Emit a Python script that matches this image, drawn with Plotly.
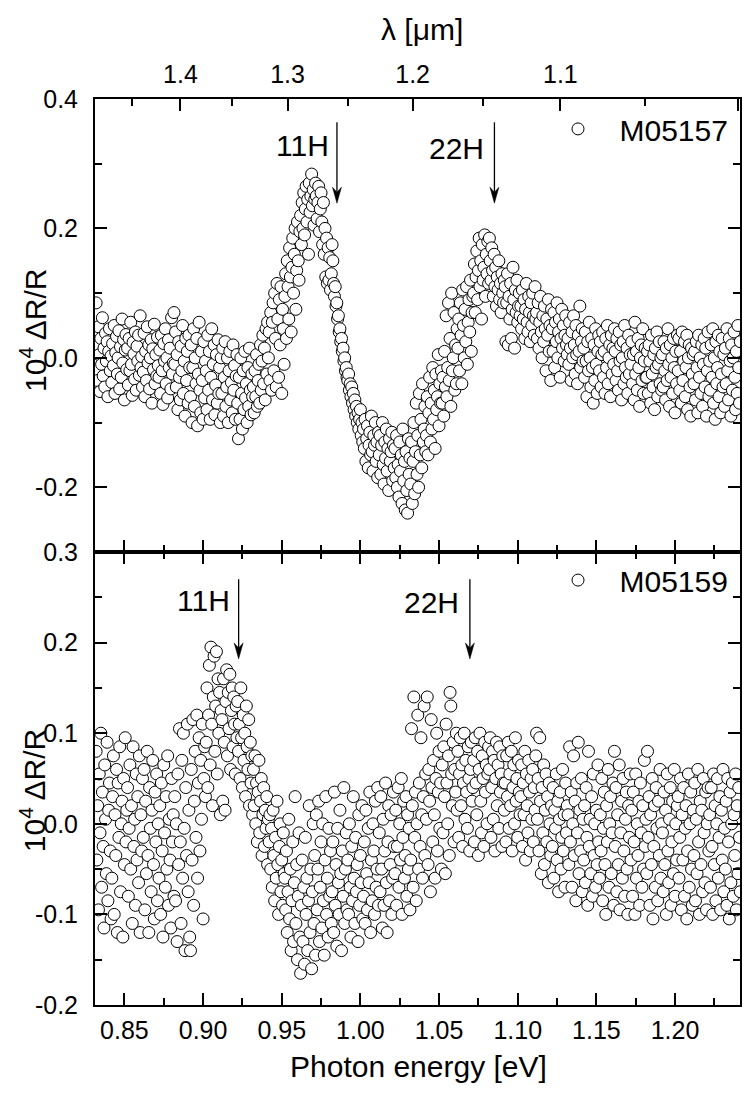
import numpy as np
import plotly.graph_objects as go

# ---------------- data (10^4 dR/R, in units of 0.001) ----------------
energy_start_eV = 0.832
energy_step_eV = 0.0005

top_label = "M05157"
bottom_label = "M05159"

top_dRR_milli = [
    85, 20, -35, 48, 5, -52, 30, -10, 62, -28, 15, -45, 38, -5, 25, -60, 10, 45, -20, 3,
    -38, 22, -12, 50, -55, 8, 33, -25, 0, 42, -48, 17, -30, 60, -8, 28, -65, 12, 36, -18,
    15, -42, 30, -20, 55, -10, -58, 24, 6, -33, 40, -50, 18, -5, 35, -27, 65, -15, 2, -45,
    -22, 38, -60, 10, -35, 48, -8, 20, -48, 0, 28, -70, 14, -18, 52, -40, 5, -28, 32, -12,
    -30, 12, -55, 35, -20, -72, 22, -5, 45, -40, 0, -62, 28, -15, 15, -48, 62, -25, -8, 70,
    -10, 40, -45, 5, -80, 25, -30, -65, 18, -20, 50, -55, -5, -90, 30, -35, 10, -70, 35, -15,
    -60, 20, -100, -15, 45, -75, 0, -40, 30, -105, -25, 55, -50, -85, 10, -35, -95, 25, -62, -5,
    -20, -80, 35, -50, 10, -95, -30, 45, -65, -10, 20, -88, -42, 5, -70, 28, -55, -15, -100, 0,
    -55, 15, -90, -30, 25, -75, -45, 0, -100, -20, 10, -65, -38, -85, 20, -50, -12, -95, -28, 5,
    -70, -125, -30, -95, 0, -55, -110, -20, -80, 10, -62, -40, -100, -15, -75, 15, -50, -88, -25, -60,
    -45, -85, -20, -60, 5, -75, -35, -10, -70, 20, -50, -5, 35, -40, 15, -65, 45, -25, 55, 0,
    40, -35, 70, -50, 55, 85, -20, 100, 30, -45, 115, 60, -30, 90, 20, 110, -55, 75, 45, -10,
    95, 130, 30, 150, 110, 60, 170, 125, 40, 140, 185, 100, 160, 200, 75, 135, 210, 150, 120, 195,
    220, 175, 240, 200, 255, 190, 230, 265, 210, 245, 160, 270, 225, 250, 284, 235, 260, 205, 245, 270,
    250, 215, 240, 265, 195, 230, 255, 210, 175, 240, 160, 200, 125, 185, 115, 170, 120, 155, 105, 130,
    175, 150, 115, 95, 110, 80, 85, 60, 65, 40, 45, 25, 30, 10, 15, -5, 0, -20, -15, -30,
    -35, -25, -50, -40, -60, -45, -70, -55, -80, -65, -90, -75, -100, -85, -110, -95, -80, -120, -100, -130,
    -110, -140, -95, -160, -125, -105, -170, -135, -115, -150, -90, -145, -175, -120, -135, -100, -160, -130, -185, -115,
    -150, -120, -180, -135, -100, -165, -195, -130, -155, -110, -175, -140, -205, -125, -160, -145, -115, -190, -135, -170,
    -140, -185, -120, -200, -165, -215, -130, -175, -150, -225, -110, -190, -160, -235, -145, -205, -240, -125, -180, -155,
    -195, -130, -225, -160, -100, -210, -145, -70, -180, -120, -200, -55, -150, -95, -170, -40, -130, -110, -75, -145,
    -120, -60, -150, -85, -30, -130, -70, -110, -15, -95, -50, -140, -25, -80, -60, 5, -105, -40, -70, -20,
    -70, -30, -90, 10, -45, 65, -60, -15, 85, -35, 30, -75, 100, -20, 0, 70, -50, 20, -40, 45,
    15, 60, -20, 85, 35, -40, 105, 50, 0, 75, 25, 110, -10, 55, 90, 40, 120, 10, 70, 95,
    100, 145, 70, 125, 165, 90, 135, 185, 110, 150, 60, 175, 120, 140, 190, 95, 160, 130, 180, 115,
    185, 150, 120, 170, 135, 95, 160, 110, 140, 80, 125, 105, 150, 90, 115, 70, 130, 100, 85, 120,
    110, 25, 85, 130, 20, 95, 60, 115, 30, 75, 140, 90, 15, 105, 70, 120, 55, 80, 100, 65,
    80, 45, 105, 60, 90, 30, 75, 115, 55, 40, 95, 70, 25, 85, 50, 100, 65, 35, 110, 60,
    70, 30, 85, 15, 55, 95, 40, 0, 65, 25, 80, 45, -20, 60, 35, 90, 10, 50, -35, 75,
    45, 10, 70, -15, 55, 25, 85, 0, 40, 60, -30, 30, 75, 15, 50, -5, 35, 65, 20, 5,
    30, -10, 55, 15, -35, 40, 0, 65, 20, -25, 50, 5, -40, 35, 10, 80, -15, 25, 45, -5,
    15, -30, 40, -5, -60, 25, -20, 55, 0, -45, 30, -15, -70, 20, -35, 45, -10, -55, 10, 35,
    -20, 25, -45, 5, 40, -30, 10, -55, 30, -15, 50, -40, 0, 20, -60, 35, -25, 15, -10, 45,
    10, -35, 30, -20, -50, 40, -5, 20, -65, 0, 25, -40, 50, -15, -30, 15, -55, 35, -25, 5,
    -10, 25, -40, 5, -65, 55, -25, 10, -50, 30, -15, -75, 0, 20, -35, 45, -55, -5, 15, -30,
    -30, 10, -55, 20, -5, -70, 35, -25, -45, 5, -80, 15, -15, 40, -60, -10, 25, -40, 0, -50,
    5, -45, 25, -20, -65, 15, -35, 45, -10, -75, 20, -30, 0, -55, 30, -15, -85, 10, -40, 35,
    -20, 30, -50, 10, -70, 40, -35, -5, 25, -60, -15, 35, -80, 0, 20, -45, -90, 15, -25, 5,
    -40, 10, -65, 25, -15, -85, 35, -30, 0, -55, 20, -75, -10, 30, -45, 15, -90, -20, 40, -60,
    -5, -50, 20, -30, 45, -70, 0, -95, 25, -40, -15, 35, -60, 10, -85, -25, 30, -45, 5, -75,
    15, -40, 45, -20, -65, 30, -5, -90, 20, -50, 0, 40, -30, -80, 10, -55, 50, -15, -70, 25,
]

bottom_dRR_milli = [
    80, -40, 20, -95, 55, -10, 100, -70, 35, -25, -115, 65, 5, -55, 90, -85, 15, 45, -30, -105,
    -60, 30, 75, -100, 10, -35, 60, -120, 45, -15, 85, -75, 0, 25, -125, 50, -45, 95, -20, 15,
    40, -80, -5, 65, -50, 20, -110, 85, -25, 5, -90, 55, -40, 30, -65, 75, -120, 10, -30, 50,
    -15, 60, -95, 25, -55, 80, -35, -120, 40, -5, -75, 15, 70, -45, -105, 35, -20, 55, -85, 0,
    -60, 20, -100, 45, -30, -125, 65, -10, -70, 30, -50, 75, -90, 5, -40, -115, 50, -20, 10, -80,
    30, -85, 0, -130, 55, -45, 105, -20, -110, 70, -60, 100, -5, -140, 40, -35, 110, -75, 15, -125,
    -140, 60, -40, 115, -90, 25, 80, -15, 120, -60, 45, 95, -30, 70, 5, 110, -105, 50, 85, 30,
    90, 150, 40, 120, 175, 65, 195, 110, 20, 140, 185, 80, 130, 190, 55, 160, 100, 145, 10, 125,
    115, 25, 160, 90, 15, 135, 170, 75, 145, 105, 165, 60, 125, 150, 85, 140, 110, 55, 130, 95,
    135, 80, 110, 50, 150, 95, 40, 120, 70, 100, 30, 130, 85, 60, 115, 20, 90, 45, 75, 10,
    60, 20, 75, 0, 45, -20, 35, 70, -10, 25, 50, -35, 10, 40, -25, 15, -5, 30, -45, 5,
    -20, 10, -50, -5, -70, 15, -35, -85, -15, -60, 25, -45, -100, -25, 0, -75, -40, -90, -10, -55,
    -60, -95, -30, -120, -75, 5, -105, -50, -140, -85, -20, -130, -65, 30, -110, -45, -150, -80, -10, -125,
    -165, -90, -40, -130, -70, -155, -15, -100, -60, -140, -85, 20, -120, -50, -160, -75, 0, -110, -35, -145,
    10, -95, -50, 25, -130, -70, -20, -115, 0, -85, -145, -40, 30, -100, -60, -125, -5, -80, -30, -110,
    -75, -20, -120, 35, -90, -45, -135, -5, -65, -100, 15, -55, -140, -30, -80, 40, -110, -50, -10, -95,
    -40, -100, 0, -70, -125, -25, -85, 30, -60, -110, -15, -75, -45, -130, 10, -90, -35, -65, 20, -105,
    -80, -20, -110, 15, -55, -95, -5, -65, 35, -120, -40, -85, 0, -30, -100, 25, -70, -50, 40, -90,
    -10, -75, 30, -50, -115, 5, -90, -30, 45, -65, -120, -20, 20, -85, -45, 10, -100, -60, 35, -25,
    -55, 15, -90, -25, 40, -70, 0, -40, 50, -100, -15, 25, -60, -35, 30, -80, 10, -50, -5, -95,
    -40, 105, 20, -70, 140, -15, 35, -85, 0, 120, -50, 45, -25, 95, 10, -60, 30, 130, -35, 55,
    5, 140, -45, 60, 25, -75, 115, 40, -20, 70, 10, -60, 50, 100, -30, 35, 80, -5, 45, -50,
    65, -10, 85, 30, -55, 110, 45, 0, 75, -35, 145, 130, 55, 20, 90, -20, 60, 35, 100, 15,
    80, -15, 55, 95, 20, 65, -25, 45, 100, 5, 70, 35, -5, 85, 50, -30, 60, 90, 25, 40,
    70, -20, 95, 45, 10, 80, -35, 60, 100, 25, -10, 75, 50, -25, 90, 35, 65, 0, 55, 85,
    60, 95, -15, 40, 80, 5, 70, -30, 50, 90, 20, 65, -5, 85, 35, 55, -25, 75, 45, 15,
    45, -20, 75, 30, 90, -5, 55, 20, 80, -30, 40, 65, 0, 95, 25, 50, -15, 70, 35, 10,
    30, 65, -25, 45, 10, 80, -40, 55, 20, -10, 70, 35, -30, 50, 5, 60, -20, 40, 15, 75,
    100, 5, 50, -30, 95, 25, -55, 40, -10, 65, -45, 15, 55, -20, 30, -65, 45, 0, -35, 20,
    -25, 40, -60, 15, -5, 55, -40, 25, -75, 5, 35, -50, -15, 60, -30, 10, -70, 45, -10, 20,
    10, -45, 85, -20, 35, -70, 0, 75, -35, 25, -85, 45, -10, 90, -55, 15, -30, 50, -75, 5,
    -40, 20, -65, 40, -15, -90, 80, -25, 5, -55, 30, -80, 55, -35, 0, -70, 15, -45, 65, -20,
    -60, 10, -30, 50, -85, -5, 35, -45, -100, 20, -20, 60, -70, 0, 30, -55, -10, 45, -90, 80,
    -25, 40, -75, 10, -45, 65, -95, -10, 25, -60, 50, -30, -80, 5, 35, -50, -100, 20, -15, 55,
    -40, 15, -80, 35, -20, -100, 55, -60, 0, -35, 25, -90, 45, -10, -70, 20, -50, 70, -25, 5,
    -55, 80, -15, 30, -90, 10, -45, 50, -105, -25, 20, -70, 40, -5, -85, 25, -35, 60, -60, 0,
    -10, -75, 35, -45, 15, -100, 55, -30, -65, 5, 40, -90, -20, 25, -55, 60, -80, 0, -40, 20,
    30, -60, -15, 50, -95, 10, -40, 40, -80, -5, 20, -105, -30, 55, -70, 0, 35, -50, -90, 15,
    -35, 45, -85, 5, -55, 60, -20, -100, 25, -45, 15, -75, 50, -10, -65, 35, -95, 0, 40, -30,
    10, -70, 40, -25, -100, 55, -45, 20, -85, 0, 50, -60, -15, 30, -95, 15, -40, 60, -75, -5,
    -50, 25, -90, 50, -20, -105, 35, -65, 0, 45, -80, 10, -35, 55, -95, 20, -55, 40, -15, -75,
]

# axis ticks / labels
energy_tickvals = [0.85, 0.90, 0.95, 1.00, 1.05, 1.10, 1.15, 1.20]
energy_ticktext = ["0.85", "0.90", "0.95", "1.00", "1.05", "1.10", "1.15", "1.20"]
energy_minor = [0.875, 0.925, 0.975, 1.025, 1.075, 1.125, 1.175, 1.225]
lambda_ticks_um = [1.4, 1.3, 1.2, 1.1, 1.0]
lambda_ticktext = ["1.4", "1.3", "1.2", "1.1", "1.0"]
lambda_minor_um = [1.45, 1.35, 1.25, 1.15, 1.05]
top_y_tickvals = [-0.2, 0.0, 0.2, 0.4]
top_y_ticktext = ["-0.2", "0.0", "0.2", "0.4"]
top_y_minor = [-0.1, 0.1, 0.3]
bottom_y_tickvals = [-0.2, -0.1, 0.0, 0.1, 0.2, 0.3]
bottom_y_ticktext = ["-0.2", "-0.1", "0.0", "0.1", "0.2", "0.3"]
bottom_y_minor = [-0.15, -0.05, 0.05, 0.15, 0.25]

# transition markers (label, energy in eV)
top_transitions = [("11H", 0.9851), ("22H", 1.0852)]
bottom_transitions = [("11H", 0.9226), ("22H", 1.0696)]

HC_EV_UM = 1.23984  # E[eV] = 1.23984 / lambda[um]

# ---------------- build ----------------
top_dRR = np.array(top_dRR_milli) / 1000.0
bottom_dRR = np.array(bottom_dRR_milli) / 1000.0
top_energy = energy_start_eV + energy_step_eV * np.arange(len(top_dRR))
bottom_energy = energy_start_eV + energy_step_eV * np.arange(len(bottom_dRR))

FONT = "Liberation Sans, Arial, Helvetica, sans-serif"
X_RANGE = [0.8313, 1.2413]
TOP_Y_RANGE = [-0.3, 0.4]
BOTTOM_Y_RANGE = [-0.2, 0.3]

W, H = 744, 1095
M = dict(l=95, r=2, t=99, b=90)
plot_w = W - M["l"] - M["r"]
panel_h = (H - M["t"] - M["b"]) / 2.0
eV_per_px = (X_RANGE[1] - X_RANGE[0]) / plot_w
top_v_per_px = (TOP_Y_RANGE[1] - TOP_Y_RANGE[0]) / panel_h
bottom_v_per_px = (BOTTOM_Y_RANGE[1] - BOTTOM_Y_RANGE[0]) / panel_h

marker = dict(symbol="circle", size=12, color="white", line=dict(color="black", width=1))

fig = go.Figure()
fig.add_trace(go.Scatter(x=top_energy, y=top_dRR, mode="markers", marker=marker,
                         name=top_label, xaxis="x2", yaxis="y2", legend="legend"))
fig.add_trace(go.Scatter(x=bottom_energy, y=bottom_dRR, mode="markers", marker=marker,
                         name=bottom_label, xaxis="x", yaxis="y", legend="legend2"))
# invisible trace so the wavelength (top) axis gets drawn
fig.add_trace(go.Scatter(x=top_energy, y=top_dRR, mode="markers",
                         marker=dict(opacity=0, size=1), hoverinfo="skip",
                         showlegend=False, xaxis="x3", yaxis="y2"))

tickfont = dict(family=FONT, size=25, color="black")
common = dict(showline=True, linecolor="black", linewidth=2, ticks="inside", ticklen=12,
              tickwidth=2, tickcolor="black", showgrid=False, zeroline=False, tickfont=tickfont)
minor_style = dict(ticks="inside", ticklen=7, tickwidth=2, tickcolor="black", showgrid=False)

legend_common = dict(xanchor="left", yanchor="middle", bgcolor="rgba(0,0,0,0)", borderwidth=0,
                     itemwidth=73, font=dict(family=FONT, size=30, color="black"))

fig.update_layout(
    width=W, height=H,
    margin=M,
    paper_bgcolor="white", plot_bgcolor="white",
    font=dict(family=FONT, color="black"),
    xaxis=dict(common, domain=[0, 1], anchor="y", range=X_RANGE, mirror="ticks",
               tickmode="array", tickvals=energy_tickvals, ticktext=energy_ticktext,
               minor=dict(minor_style, tickmode="array", tickvals=energy_minor),
               ticklabelstandoff=2),
    xaxis2=dict(common, domain=[0, 1], anchor="y2", range=X_RANGE, matches="x",
                showticklabels=False, tickmode="array", tickvals=energy_tickvals,
                minor=dict(minor_style, tickmode="array", tickvals=energy_minor)),
    xaxis3=dict(common, overlaying="x2", side="top", anchor="y2", range=X_RANGE,
                tickmode="array", tickvals=[HC_EV_UM / l for l in lambda_ticks_um],
                ticktext=lambda_ticktext,
                minor=dict(minor_style, tickmode="array",
                           tickvals=[HC_EV_UM / l for l in lambda_minor_um]),
                ticklabelstandoff=4),
    yaxis=dict(common, domain=[0, 0.5], anchor="x", range=BOTTOM_Y_RANGE, mirror="ticks",
               tickmode="array", tickvals=bottom_y_tickvals, ticktext=bottom_y_ticktext,
               minor=dict(minor_style, tickmode="array", tickvals=bottom_y_minor),
               ticklabelstandoff=10),
    yaxis2=dict(common, domain=[0.5, 1], anchor="x2", range=TOP_Y_RANGE, mirror="ticks",
                tickmode="array", tickvals=top_y_tickvals, ticktext=top_y_ticktext,
                minor=dict(minor_style, tickmode="array", tickvals=top_y_minor),
                ticklabelstandoff=10),
    legend=dict(legend_common, x=0.6845, y=0.967),
    legend2=dict(legend_common, x=0.6845, y=0.469),
    showlegend=True,
)

title_font = dict(family=FONT, size=30, color="black")
annotations = [
    dict(text="10<sup>4</sup> ΔR/R", xref="paper", yref="paper", x=0, y=0.744, xshift=-62,
         xanchor="center", yanchor="middle", textangle=-90, showarrow=False, font=title_font),
    dict(text="10<sup>4</sup> ΔR/R", xref="paper", yref="paper", x=0, y=0.236, xshift=-62,
         xanchor="center", yanchor="middle", textangle=-90, showarrow=False, font=title_font),
    dict(text="λ [μm]", xref="paper", yref="paper", x=0.507, y=1.0762,
         xanchor="center", yanchor="middle", showarrow=False, font=title_font),
    dict(text="Photon energy [eV]", xref="paper", yref="paper", x=0.502, y=-0.0684,
         xanchor="center", yanchor="middle", showarrow=False, font=title_font),
]
shapes = []


def add_arrow(e, tail, tip, xref, yref, v_per_px):
    head_len = 16 * v_per_px
    notch = 11 * v_per_px
    half_w = 4.5 * eV_per_px
    shapes.append(dict(type="line", xref=xref, yref=yref, x0=e, x1=e, y0=tail, y1=tip + notch,
                       line=dict(color="black", width=1.3)))
    shapes.append(dict(type="path", xref=xref, yref=yref,
                       path=f"M {e},{tip} L {e - half_w},{tip + head_len} L {e},{tip + notch} "
                            f"L {e + half_w},{tip + head_len} Z",
                       fillcolor="black", line=dict(color="black", width=0.5)))


label_pos_top = {"11H": (0.9631, 0.328), "22H": (1.061, 0.323)}
label_pos_bottom = {"11H": (0.9001, 0.246), "22H": (1.0452, 0.244)}
for name, e in top_transitions:
    lx, ly = label_pos_top[name]
    annotations.append(dict(text=name, x=lx, y=ly, xref="x2", yref="y2", showarrow=False,
                            xanchor="center", yanchor="middle", font=title_font))
    add_arrow(e, 0.364, 0.239, "x2", "y2", top_v_per_px)
for name, e in bottom_transitions:
    lx, ly = label_pos_bottom[name]
    annotations.append(dict(text=name, x=lx, y=ly, xref="x", yref="y", showarrow=False,
                            xanchor="center", yanchor="middle", font=title_font))
    add_arrow(e, 0.270, 0.182, "x", "y", bottom_v_per_px)

fig.update_layout(annotations=annotations, shapes=shapes)
fig.write_html("out.html", config={"displayModeBar": False},
               post_script="document.body.style.margin='0';")
